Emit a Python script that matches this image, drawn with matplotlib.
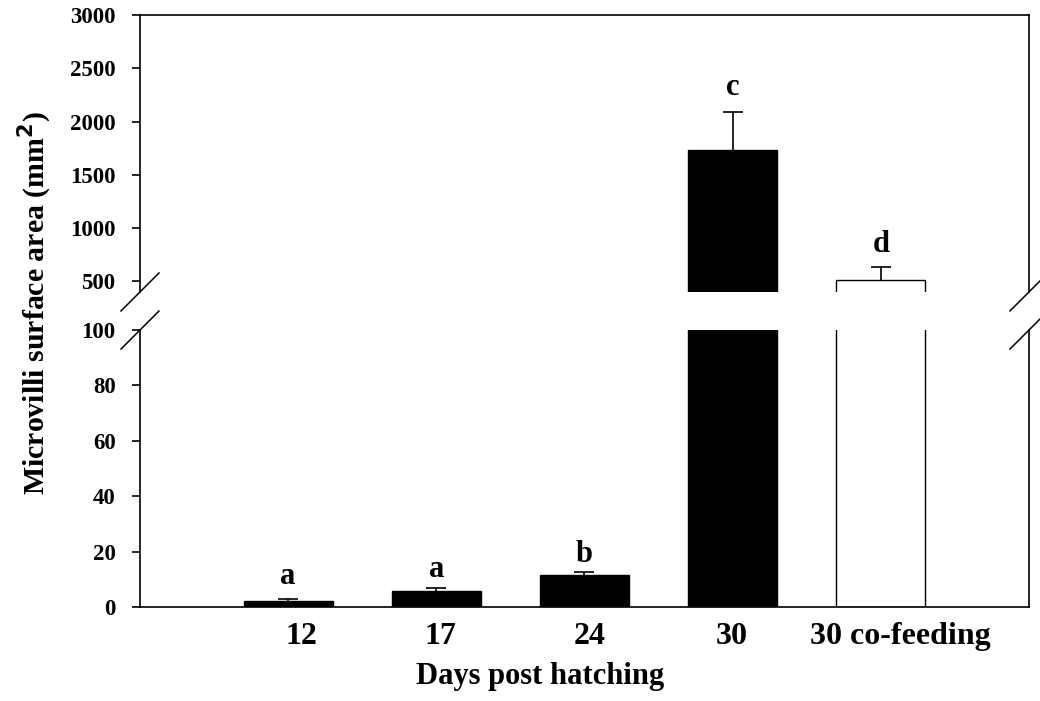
import matplotlib
matplotlib.use("Agg")
import matplotlib.pyplot as plt
from matplotlib.transforms import ScaledTranslation

days = ["12", "17", "24", "30", "30 co-feeding"]
surface = [2.1, 5.6, 11.5, 1730, 510]
sem = [0.7, 1.2, 1.0, 360, 125]
bar_colors = ["black", "black", "black", "black", "white"]
letters = ["a", "a", "b", "c", "d"]
letter_y = [8.3, 10.8, 16.2, 2250, 775]

plt.rcParams["font.family"] = ["Liberation Serif", "DejaVu Serif"]
plt.rcParams["font.weight"] = "bold"

fig = plt.figure(figsize=(10.4, 7.01), dpi=100)
ax_top = fig.add_axes([0.1346, 0.5835, 0.8548, 0.3951])
ax_bot = fig.add_axes([0.1346, 0.1341, 0.8548, 0.3951])

x = list(range(len(days)))

for ax in (ax_top, ax_bot):
    ax.bar(x, surface, width=0.6, color=bar_colors, edgecolor="black", linewidth=1.0)
    _, caps, _ = ax.errorbar(x, surface, yerr=[[0] * len(sem), sem], fmt="none",
                             ecolor="black", elinewidth=1.2, capsize=7.5, capthick=1.2)
    caps[0].set_visible(False)  # only the upper cap, like the original
    ax.set_xlim(-1, 5)
    for s in ax.spines.values():
        s.set_linewidth(1.2)
    ax.tick_params(axis="y", direction="out", length=6, width=1.2, labelsize=16.5, pad=11.5)

# upper panel
ax_top.set_ylim(400, 3000)
ax_top.set_yticks([500, 1000, 1500, 2000, 2500, 3000])
ax_top.spines["bottom"].set_visible(False)
ax_top.set_xticks([])

# lower panel
ax_bot.set_ylim(0, 100)
ax_bot.set_yticks([0, 20, 40, 60, 80, 100])
ax_bot.spines["top"].set_visible(False)
ax_bot.set_xticks(x)
ax_bot.set_xticklabels(days, fontsize=23, fontweight="bold")
ax_bot.tick_params(axis="x", length=0, pad=11)
ax_bot.set_xlabel("Days post hatching", fontsize=22, fontweight="bold")
ax_bot.xaxis.set_label_coords(0.45, -0.2)

# the original's category labels sit slightly right of the bar centres
label_shift_px = [13, 4, 5, -1, 20]
for lab, sh in zip(ax_bot.get_xticklabels(), label_shift_px):
    lab.set_transform(lab.get_transform() + ScaledTranslation(sh / 100, 0, fig.dpi_scale_trans))

for ax in (ax_top, ax_bot):
    for lab in ax.get_yticklabels():
        lab.set_fontweight("bold")

# significance letters
for i, (lt, ly) in enumerate(zip(letters, letter_y)):
    ax = ax_bot if surface[i] < 100 else ax_top
    ax.text(x[i], ly, lt, ha="center", va="baseline", fontsize=22, fontweight="bold")

fig.text(0.034, 0.568, "Microvilli surface area (mm$^\\mathbf{2}$)", rotation=90,
         ha="center", va="center", fontsize=21.5, fontweight="bold")

# break marks
dx_t, dy_t = 19 / 889, 19 / 277
kw = dict(color="black", linewidth=1.1, clip_on=False)
for xx in (0, 1):
    ax_top.plot([xx - dx_t, xx + dx_t], [-dy_t, dy_t], transform=ax_top.transAxes, **kw)
    ax_bot.plot([xx - dx_t, xx + dx_t], [1 - dy_t, 1 + dy_t], transform=ax_bot.transAxes, **kw)

fig.savefig("out.png", dpi=100)
